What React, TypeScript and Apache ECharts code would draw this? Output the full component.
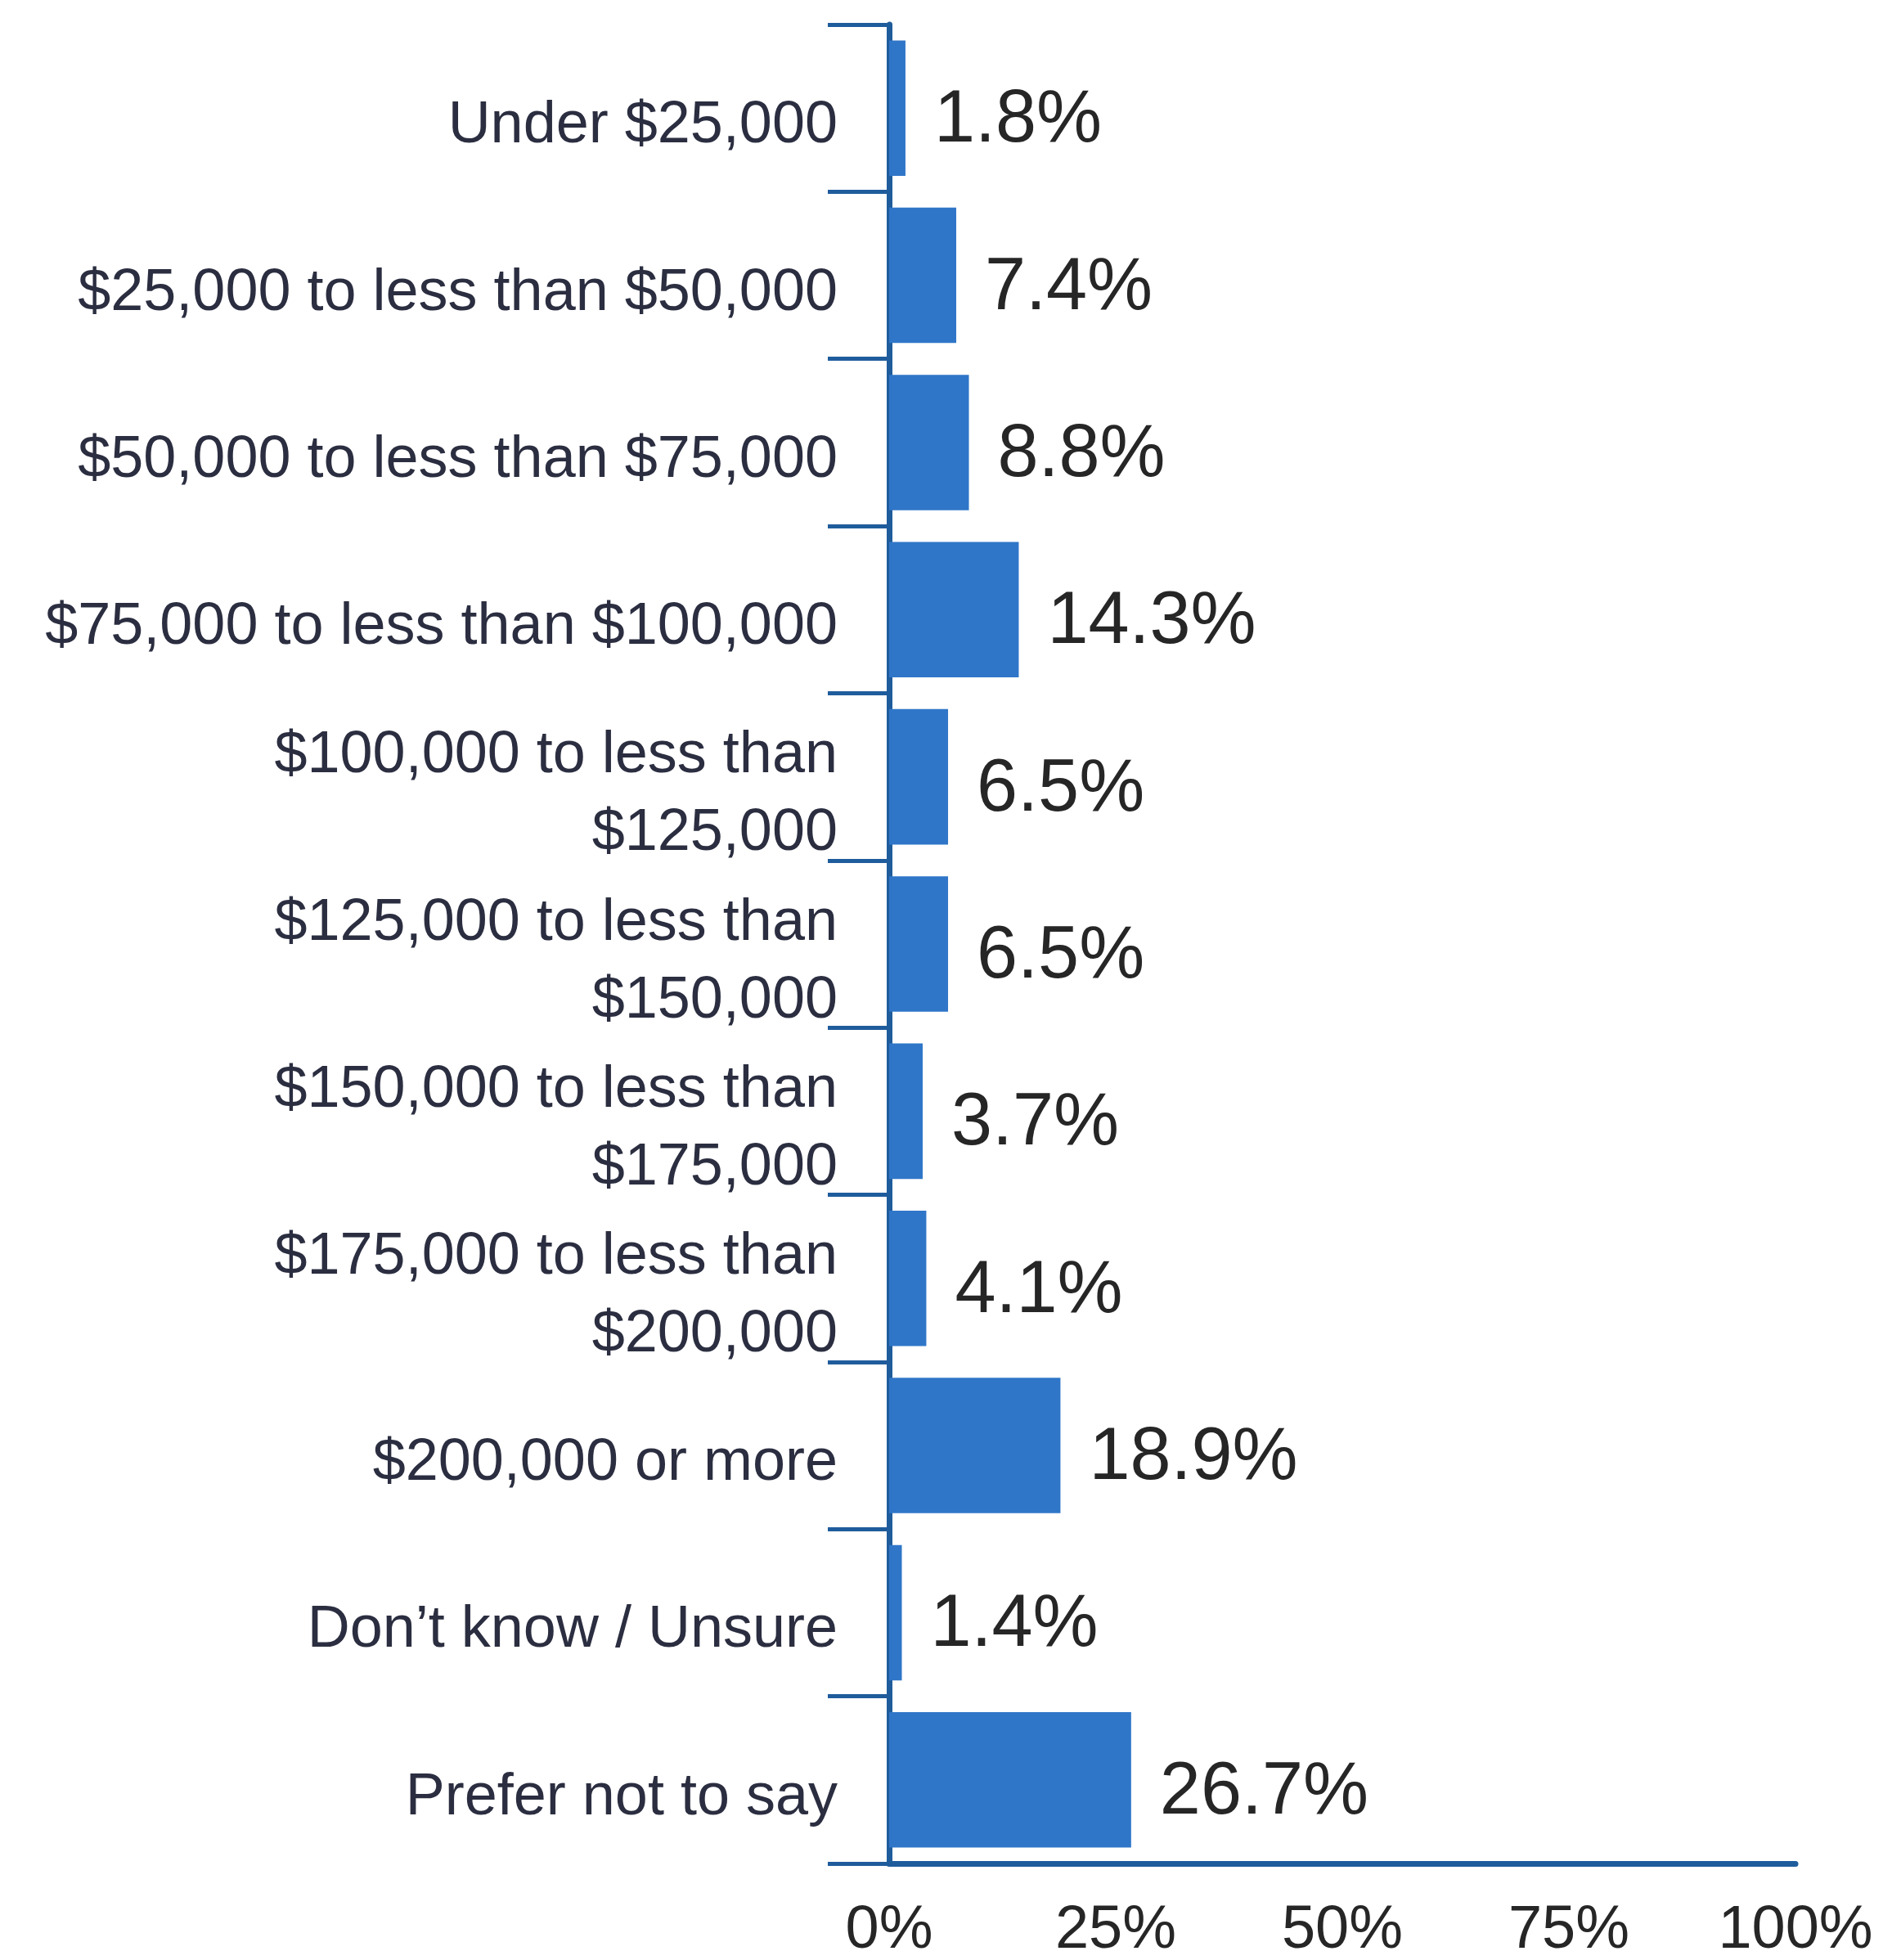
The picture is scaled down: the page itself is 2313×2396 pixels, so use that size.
import React, { useEffect, useRef } from "react";
import * as echarts from "echarts";

const categories = [
  "Under $25,000",
  "$25,000 to less than $50,000",
  "$50,000 to less than $75,000",
  "$75,000 to less than $100,000",
  "$100,000 to less than\n$125,000",
  "$125,000 to less than\n$150,000",
  "$150,000 to less than\n$175,000",
  "$175,000 to less than\n$200,000",
  "$200,000 or more",
  "Don\u2019t know / Unsure",
  "Prefer not to say",
];
const values = [1.8, 7.4, 8.8, 14.3, 6.5, 6.5, 3.7, 4.1, 18.9, 1.4, 26.7];
const xMin = 0;
const xMax = 100;
const xInterval = 25;

const BAR = "#2f76c8";
const AXIS = "#1f5c9c";
const FONT = "Liberation Sans, Arial, sans-serif";

export default function App() {
  const ref = useRef<HTMLDivElement>(null);
  useEffect(() => {
    if (!ref.current) return;
    const chart = echarts.init(ref.current, null, { renderer: "svg" });
    chart.setOption({
      animation: false,
      backgroundColor: "#ffffff",
      grid: { left: 1087, right: 118, top: 30, bottom: 118 },
      xAxis: {
        type: "value",
        min: xMin,
        max: xMax,
        interval: xInterval,
        splitLine: { show: false },
        axisTick: { show: false },
        axisLine: { show: true, lineStyle: { color: AXIS, width: 7 } },
        axisLabel: {
          margin: 40,
          fontSize: 74,
          lineHeight: 74,
          fontFamily: FONT,
          color: "#262626",
          formatter: (v: number) => `${v}%`,
        },
      },
      yAxis: {
        type: "category",
        inverse: true,
        data: categories,
        axisLine: { show: true, lineStyle: { color: AXIS, width: 7 } },
        axisTick: {
          show: true,
          length: 75,
          lineStyle: { color: AXIS, width: 5 },
        },
        axisLabel: {
          margin: 63,
          align: "right",
          formatter: (v: string) =>
            "{s| }\n" + v.split("\n").map((l) => `{a|${l}}`).join("\n"),
          rich: {
            s: { fontSize: 10, lineHeight: 34 },
            a: {
              fontSize: 72,
              lineHeight: 95,
              fontFamily: FONT,
              color: "#2b2e40",
              align: "right",
            },
          },
        },
      },
      series: [
        {
          type: "bar",
          data: values,
          barCategoryGap: "19%",
          itemStyle: { color: BAR },
          label: {
            show: true,
            position: "right",
            distance: 35,
            offset: [0, 10],
            fontSize: 90,
            fontFamily: FONT,
            color: "#262626",
            formatter: (p: any) => `${Number(p.value).toFixed(1)}%`,
          },
        },
      ],
    });
    return () => chart.dispose();
  }, []);
  return (
    <div
      ref={ref}
      style={{ position: "absolute", left: 0, top: 0, width: 2313, height: 2396 }}
    />
  );
}
